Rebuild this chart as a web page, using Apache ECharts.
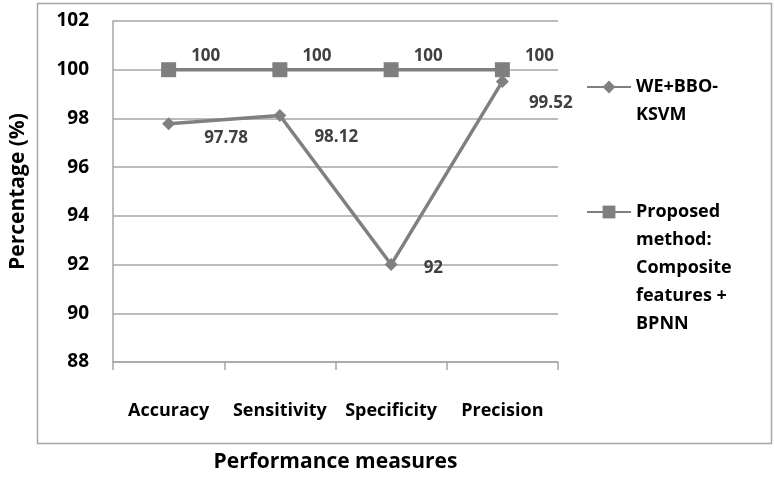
<!DOCTYPE html>
<html><head><meta charset="utf-8">
<script src="https://cdn.jsdelivr.net/npm/echarts@6/dist/echarts.min.js"></script>
<style>html,body{margin:0;padding:0;background:#fff}#c{width:774px;height:478px}</style>
</head><body><div id="c"></div>
<script>
const categories = ['Accuracy', 'Sensitivity', 'Specificity', 'Precision'];
const weBboKsvm = [97.78, 98.12, 92, 99.52];
const proposed = [100, 100, 100, 100];
const yTicks = [88, 90, 92, 94, 96, 98, 100, 102];
const seriesNames = ['WE+BBO-\nKSVM', 'Proposed\nmethod:\nComposite\nfeatures +\nBPNN'];
const weLabelOffsets = [[24, 14], [23, 22], [21, 4], [15, 22]];

const font = '"Open Sans", sans-serif';
const legendText = {fontFamily: font, fontWeight: 'bold', fontSize: 18, color: '#000', lineHeight: 28};
// put the icon beside the first line of a multi-line legend name
const topAlign = name => '\n'.repeat(name.split('\n').length - 1) + name;
const chart = echarts.init(document.getElementById('c'));
chart.setOption({
  backgroundColor: '#fff',
  animation: false,
  graphic: [{type: 'rect', shape: {x: 37.5, y: 3.5, width: 734, height: 440},
    style: {fill: 'none', stroke: '#a6a6a6', lineWidth: 1.5}}],
  grid: {left: 108, right: 216, top: 21, bottom: 102, containLabel: false},
  legend: [
    {orient: 'vertical', left: 586, top: 45, padding: 0, itemWidth: 44, itemHeight: 16,
     textStyle: legendText, formatter: topAlign, data: [seriesNames[0]]},
    {orient: 'vertical', left: 586, top: 86, padding: 0, itemWidth: 44, itemHeight: 16,
     textStyle: legendText, formatter: topAlign, data: [seriesNames[1]]}
  ],
  xAxis: {
    type: 'category', data: categories, boundaryGap: true,
    name: 'Performance measures', nameLocation: 'middle', nameGap: 90,
    nameTextStyle: {fontFamily: font, fontWeight: 'bold', fontSize: 21, color: '#000'},
    axisLine: {lineStyle: {color: '#a6a6a6', width: 1.5}},
    axisTick: {show: true, length: 8, lineStyle: {color: '#a6a6a6', width: 1.5}},
    axisLabel: {interval: 0, fontFamily: font, fontWeight: 'bold', fontSize: 18, color: '#000', margin: 40}
  },
  yAxis: {
    type: 'value', min: yTicks[0], max: yTicks[yTicks.length - 1], interval: 2,
    name: 'Percentage (%)', nameLocation: 'middle', nameGap: 84,
    nameTextStyle: {fontFamily: font, fontWeight: 'bold', fontSize: 21, color: '#000'},
    axisLine: {show: true, lineStyle: {color: '#a6a6a6', width: 1.5}},
    axisTick: {show: false},
    splitLine: {lineStyle: {color: '#a6a6a6', width: 1.5}},
    axisLabel: {fontFamily: font, fontWeight: 'bold', fontSize: 19, color: '#000', margin: 24}
  },
  series: [
    {
      name: seriesNames[0], type: 'line', symbol: 'diamond', symbolSize: 13,
      lineStyle: {color: '#808080', width: 3.5}, itemStyle: {color: '#808080'},
      data: weBboKsvm.map((v, i) => ({value: v, label: {offset: weLabelOffsets[i]}})),
      label: {show: true, position: 'right', fontFamily: font, fontWeight: 'bold', fontSize: 17, color: '#404040'},
      z: 3
    },
    {
      name: seriesNames[1], type: 'line', symbol: 'rect', symbolSize: 15,
      lineStyle: {color: '#7f7f7f', width: 3.5}, itemStyle: {color: '#7f7f7f'},
      data: proposed,
      label: {show: true, position: 'right', offset: [10, -14], fontFamily: font, fontWeight: 'bold', fontSize: 17, color: '#404040'},
      z: 2
    }
  ]
});
</script></body></html>
